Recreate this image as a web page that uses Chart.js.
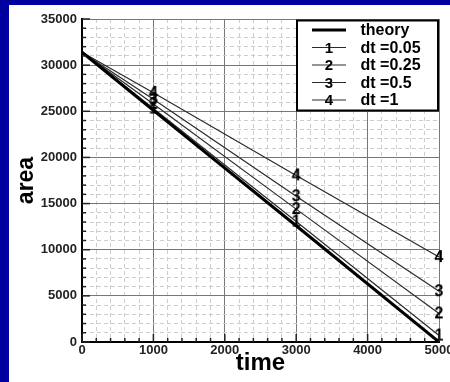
<!DOCTYPE html>
<html>
<head>
<meta charset="utf-8">
<script src="https://cdn.jsdelivr.net/npm/chart.js@4"></script>
<style>
	html, body { margin: 0; padding: 0; background: #0000a0; overflow: hidden; }
	#wrap { position: absolute; left: 9px; top: 5px; width: 441px; height: 377px; background: #fff; }
</style>
</head>
<body>
<div id="wrap"><canvas id="chart-area" width="441" height="377"></canvas></div>
<script>
// Data
const times = [0, 1000, 3000, 5000];
const theory = [31400, 25100, 12600, 0];
const dt005 = [31400, 25300, 13050, 700];
const dt025 = [31400, 25800, 14400, 3100];
const dt05 = [31400, 26300, 15800, 5500];
const dt1 = [31400, 27000, 18050, 9200];
const seriesNames = ['theory', 'dt =0.05', 'dt =0.25', 'dt =0.5', 'dt =1'];
const xTickLabels = [0, 1000, 2000, 3000, 4000, 5000];
const yTickLabels = [0, 5000, 10000, 15000, 20000, 25000, 30000, 35000];

const FONT = "'Liberation Sans', Arial, sans-serif";

// digit used as point marker
function digitMarker(d, size) {
	const c = document.createElement('canvas');
	c.width = 14;
	c.height = 18;
	const g = c.getContext('2d');
	g.fillStyle = '#000';
	g.font = 'bold ' + size + 'px ' + FONT;
	g.textAlign = 'center';
	g.textBaseline = 'middle';
	g.fillText(String(d), 7, 10);
	return c;
}

function toPoints(ys) {
	return times.map((t, i) => ({ x: t, y: ys[i] }));
}

function dtSet(label, ys, n) {
	return {
		label: label,
		data: toPoints(ys),
		borderColor: '#2a2a2a',
		borderWidth: 1.2,
		pointStyle: digitMarker(n, 16),
		pointRadius: [0, 6, 6, 6],
		pointHoverRadius: 0,
		clip: false,
		fill: false,
		tension: 0,
	};
}

// inner tick marks on the axes + boxed legend
const extras = {
	id: 'extras',
	afterDraw(chart) {
		const ctx = chart.ctx;
		const a = chart.chartArea;
		const xs = chart.scales.x;
		const ys = chart.scales.y;
		ctx.save();
		ctx.strokeStyle = '#222';
		ctx.lineWidth = 1.5;
		xs.ticks.forEach((t) => {
			const px = xs.getPixelForValue(t.value);
			const len = xTickLabels.includes(t.value) ? 8 : 4;
			ctx.beginPath();
			ctx.moveTo(px, a.bottom);
			ctx.lineTo(px, a.bottom - len);
			ctx.stroke();
		});
		ys.ticks.forEach((t) => {
			const py = ys.getPixelForValue(t.value);
			const len = yTickLabels.includes(t.value) ? 8 : 4;
			ctx.beginPath();
			ctx.moveTo(a.left, py);
			ctx.lineTo(a.left + len, py);
			ctx.stroke();
		});

		// legend box
		const bx = a.right - 142;
		const by = a.top + 1.5;
		ctx.fillStyle = '#fff';
		ctx.fillRect(bx, by, 141, 90);
		ctx.strokeStyle = '#000';
		ctx.lineWidth = 2;
		ctx.strokeRect(bx, by, 141, 90);
		ctx.textBaseline = 'middle';
		seriesNames.forEach((name, i) => {
			const cy = by + 9.5 + 17.5 * i;
			ctx.strokeStyle = i === 0 ? '#000' : '#2a2a2a';
			ctx.lineWidth = i === 0 ? 3 : 1.2;
			ctx.beginPath();
			ctx.moveTo(bx + 15, cy);
			ctx.lineTo(bx + 49, cy);
			ctx.stroke();
			ctx.fillStyle = '#000';
			if (i > 0) {
				ctx.font = 'bold 15px ' + FONT;
				ctx.textAlign = 'center';
				ctx.fillText(String(i), bx + 32, cy + 1);
			}
			ctx.font = 'bold 16px ' + FONT;
			ctx.textAlign = 'left';
			ctx.fillText(name, bx + 63.5, cy + 1);
		});
		ctx.restore();
	},
};

!(function () {
	const ctx = document.getElementById('chart-area');

	new Chart(ctx, {
		type: 'line',
		data: {
			datasets: [
				{
					label: 'theory',
					data: toPoints(theory),
					borderColor: '#000',
					borderWidth: 3,
					pointRadius: 0,
					pointHoverRadius: 0,
					fill: false,
					tension: 0,
				},
				dtSet('dt =0.05', dt005, 1),
				dtSet('dt =0.25', dt025, 2),
				dtSet('dt =0.5', dt05, 3),
				dtSet('dt =1', dt1, 4),
			],
		},
		options: {
			responsive: false,
			animation: false,
			layout: {
				padding: { left: 0, right: 11, top: 14, bottom: 0 },
			},
			plugins: {
				legend: { display: false },
				tooltip: { enabled: false },
			},
			scales: {
				x: {
					type: 'linear',
					min: 0,
					max: 5000,
					afterFit(scale) {
						scale.height = 40;
						scale.paddingLeft = 0;
						scale.paddingRight = 0;
					},
					ticks: {
						stepSize: 200,
						autoSkip: false,
						maxRotation: 0,
						padding: 1,
						color: '#222',
						font: { family: FONT, size: 13, weight: 'bold' },
						callback: (v) => (xTickLabels.includes(v) ? String(v) : ''),
					},
					grid: {
						drawTicks: false,
						lineWidth: 1,
						color: (c) => (c.tick && xTickLabels.includes(c.tick.value) ? '#777' : '#cdcdcd'),
					},
					border: {
						color: '#000',
						width: 2,
						dash: (c) => (c.tick && !xTickLabels.includes(c.tick.value) ? [4, 3] : []),
					},
					title: {
						display: true,
						text: 'time',
						color: '#000',
						font: { family: FONT, size: 24, weight: 'bold', lineHeight: 1 },
						padding: { top: 0, bottom: 7 },
					},
				},
				y: {
					min: 0,
					max: 35000,
					afterFit(scale) {
						scale.width = 73;
						scale.paddingTop = 0;
						scale.paddingBottom = 0;
					},
					ticks: {
						stepSize: 1000,
						autoSkip: false,
						padding: 5,
						color: '#222',
						font: { family: FONT, size: 13, weight: 'bold' },
						callback: (v) => (yTickLabels.includes(v) ? String(v) : ''),
					},
					grid: {
						drawTicks: false,
						lineWidth: 1,
						color: (c) => (c.tick && yTickLabels.includes(c.tick.value) ? '#777' : '#cdcdcd'),
					},
					border: {
						color: '#000',
						width: 2,
						dash: (c) => (c.tick && !yTickLabels.includes(c.tick.value) ? [4, 3] : []),
					},
					title: {
						display: true,
						text: 'area',
						color: '#000',
						font: { family: FONT, size: 23, weight: 'bold', lineHeight: 1 },
						padding: { top: 6.5, bottom: 0 },
					},
				},
			},
		},
		plugins: [extras],
	});
})();
</script>
</body>
</html>
